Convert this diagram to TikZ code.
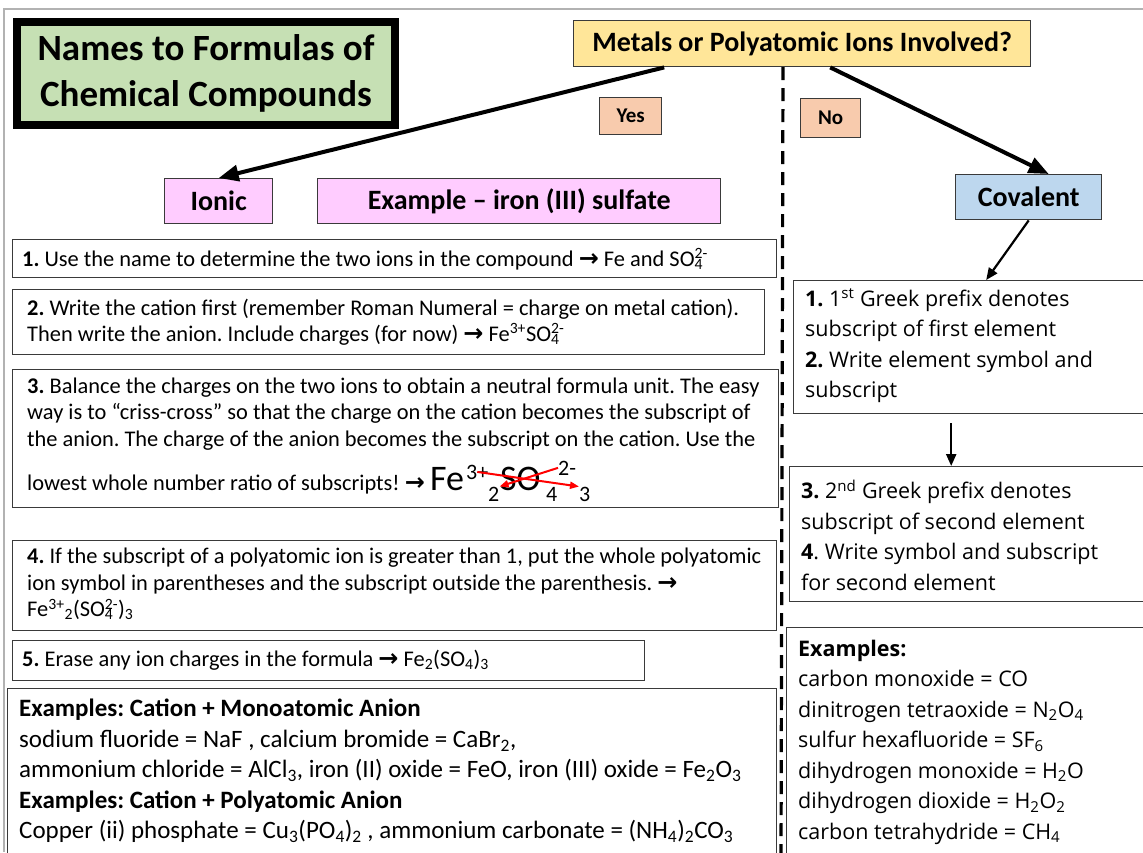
\documentclass[tikz,border=0pt]{standalone}
\usepackage{fontspec}
\setmainfont{Carlito}
\newfontfamily\covfont{Open Sans}
\newfontfamily\symfont{DejaVu Sans}
\usetikzlibrary{arrows.meta}

\definecolor{titlegreen}{HTML}{C6E0B4}
\definecolor{askyellow}{HTML}{FFE699}
\definecolor{answerpeach}{HTML}{F8CBAD}
\definecolor{ionicpink}{HTML}{FFCCFF}
\definecolor{covblue}{HTML}{BDD7EE}
\definecolor{boxline}{HTML}{3A3A3A}

\newcommand\toarr{{\symfont\bfseries\fontsize{24}{24}\selectfont →}}
\newcommand\subsup[2]{\rlap{\textsubscript{#1}}\textsuperscript{#2}}
\frenchspacing

\begin{document}
\begin{tikzpicture}[x=1pt, y=-1pt]

% Define styles
\tikzset{
  box/.style={draw=boxline, line width=1.4pt, anchor=north west, inner sep=0pt},
  stepbox/.style={box, fill=white},
  titlebox/.style={draw=black, line width=8pt, fill=titlegreen, anchor=north west,
    inner sep=0pt, align=center, font=\bfseries\fontsize{37}{46}\selectfont},
  headbox/.style={box, font=\bfseries\fontsize{28}{30}\selectfont},
  askbox/.style={headbox, fill=askyellow},
  ionicbox/.style={headbox, fill=ionicpink},
  covbox/.style={headbox, fill=covblue},
  answerbox/.style={box, fill=answerpeach, font=\bfseries\fontsize{21}{22}\selectfont},
  steptext/.style={anchor=west, align=left, inner sep=0pt, font=\fontsize{22.4}{26.5}\selectfont},
  extext/.style={anchor=west, align=left, inner sep=0pt, font=\fontsize{25}{30.4}\selectfont},
  covtext/.style={anchor=west, align=left, inner sep=0pt, font=\covfont\fontsize{21.5}{30.5}\selectfont},
  bigchem/.style={anchor=base west, inner sep=0pt, font=\fontsize{36}{36}\selectfont},
  smallchem/.style={anchor=base west, inner sep=0pt, font=\fontsize{22}{22}\selectfont},
  bigarrow/.style={line width=4pt, -{Triangle[length=20pt, width=16pt]}},
  thinarrow/.style={line width=2.2pt, -{Triangle[length=12pt, width=10pt]}},
  redarrow/.style={red, line width=2pt, -{Triangle[length=9pt, width=7pt]}},
  divider/.style={line width=3.2pt, dash pattern=on 13pt off 8pt}
}

\clip (0,0) rectangle (1143,852);
\draw[gray!60, line width=1.5pt] (4,852) -- (4,9) -- (1143,9);

% Title and question
\node[titlebox, minimum width=378pt, minimum height=103pt] (title) at (13,18) {Names to Formulas of\\Chemical Compounds};
\node[askbox, minimum width=457pt, minimum height=46pt] (ask) at (573,20) {Metals or Polyatomic Ions Involved?};
\node[answerbox, minimum width=62pt, minimum height=37pt] (yes) at (599,97) {Yes};
\node[answerbox, minimum width=60pt, minimum height=39pt] (no) at (800,98) {No};

% Branch headers
\node[ionicbox, minimum width=108pt, minimum height=45pt] (ionic) at (164,178) {Ionic};
\node[ionicbox, minimum width=403pt, minimum height=45pt] (example) at (317,178) {Example -- iron (III) sulfate};
\node[covbox, minimum width=146pt, minimum height=45pt] (covalent) at (955,174) {Covalent};

% Dividing line
\coordinate (divtop) at (783,67);
\coordinate (divbot) at (781,860);
\draw[divider] (divtop) -- (divbot);

% Ionic steps
\node[stepbox, minimum width=764pt, minimum height=38pt] (step1) at (12,239) {};
\node[stepbox, minimum width=752pt, minimum height=65pt] (step2) at (12,289) {};
\node[stepbox, minimum width=766pt, minimum height=138pt] (step3) at (12,369) {};
\node[stepbox, minimum width=764pt, minimum height=90pt] (step4) at (12,540) {};
\node[stepbox, minimum width=632pt, minimum height=40pt] (step5) at (12,640) {};
\node[stepbox, minimum width=769pt, minimum height=250pt] (ionex) at (7,688) {};

\node[steptext] (step1txt) at (22,259) {\textbf{1.} Use the name to determine the two ions in the compound \toarr{} Fe and SO\subsup{4}{2-}};
\node[steptext] (step2txt) at (27,322) {\textbf{2.} Write the cation first (remember Roman Numeral = charge on metal cation).\\Then write the anion. Include charges (for now) \toarr{} Fe\textsuperscript{3+}SO\subsup{4}{2-}};
\node[steptext] (step3txt) at (27,414) {\textbf{3.} Balance the charges on the two ions to obtain a neutral formula unit. The easy\\way is to ``criss-cross'' so that the charge on the cation becomes the subscript of\\the anion. The charge of the anion becomes the subscript on the cation. Use the};
\node[steptext, anchor=base west] (step3end) at (27,490) {lowest whole number ratio of subscripts! \toarr};
\node[steptext] (step4txt) at (27,584) {\textbf{4.} If the subscript of a polyatomic ion is greater than 1, put the whole polyatomic\\ion symbol in parentheses and the subscript outside the parenthesis. \toarr\\Fe\textsuperscript{3+}\textsubscript{2}(SO\subsup{4}{2-})\textsubscript{3}};
\node[steptext] (step5txt) at (22,660) {\textbf{5.} Erase any ion charges in the formula \toarr{} Fe\textsubscript{2}(SO\textsubscript{4})\textsubscript{3}};
\node[extext] (ionextxt) at (19,771) {\textbf{Examples: Cation + Monoatomic Anion}\\sodium fluoride = NaF , calcium bromide = CaBr\textsubscript{2},\\ammonium chloride = AlCl\textsubscript{3}, iron (II) oxide = FeO, iron (III) oxide = Fe\textsubscript{2}O\textsubscript{3}\\\textbf{Examples: Cation + Polyatomic Anion}\\Copper (ii) phosphate = Cu\textsubscript{3}(PO\textsubscript{4})\textsubscript{2} , ammonium carbonate = (NH\textsubscript{4})\textsubscript{2}CO\textsubscript{3}};

% Criss-cross formula
\node[bigchem] (fe) at (430,490) {Fe};
\node[smallchem] (c3) at (466,479) {3+};
\node[bigchem] (so) at (500,490) {SO};
\node[smallchem] (c2) at (558,475) {2-};
\node[smallchem] (s2) at (488,501) {2};
\node[smallchem] (s4) at (546,501) {4};
\node[smallchem] (s3) at (579,501) {3};
\draw[redarrow] (c3.center) -- (s3.north west);
\draw[redarrow] (c2.west) -- (s2.north east);

% Covalent steps
\node[box, minimum width=357pt, minimum height=133pt] (cov1) at (793,280) {};
\node[box, minimum width=361pt, minimum height=135pt] (cov2) at (789,466) {};
\node[box, minimum width=364pt, minimum height=300pt] (covex) at (786,627) {};

\node[covtext] (cov1txt) at (805,346) {\textbf{1.} 1\textsuperscript{st} Greek prefix denotes\\subscript of first element\\\textbf{2.} Write element symbol and\\subscript};
\node[covtext] (cov2txt) at (801,535) {\textbf{3.} 2\textsuperscript{nd} Greek prefix denotes\\subscript of second element\\\textbf{4}. Write symbol and subscript\\for second element};
\node[covtext] (covextxt) at (798,742) {\textbf{Examples:}\\carbon monoxide = CO\\dinitrogen tetraoxide = N\textsubscript{2}O\textsubscript{4}\\sulfur hexafluoride = SF\textsubscript{6}\\dihydrogen monoxide = H\textsubscript{2}O\\dihydrogen dioxide = H\textsubscript{2}O\textsubscript{2}\\carbon tetrahydride = CH\textsubscript{4}};

% Arrows
\draw[bigarrow] ([xshift=-138pt]ask.south) -- (ionic.north);
\draw[bigarrow] ([xshift=28pt]ask.south) -- ([xshift=20pt]covalent.north);
\draw[thinarrow] (covalent.south) -- ([xshift=14pt]cov1.north);
\draw[thinarrow] ([xshift=-21pt, yshift=-9pt]cov1.south) -- ([xshift=-19pt]cov2.north);

\end{tikzpicture}
\end{document}
